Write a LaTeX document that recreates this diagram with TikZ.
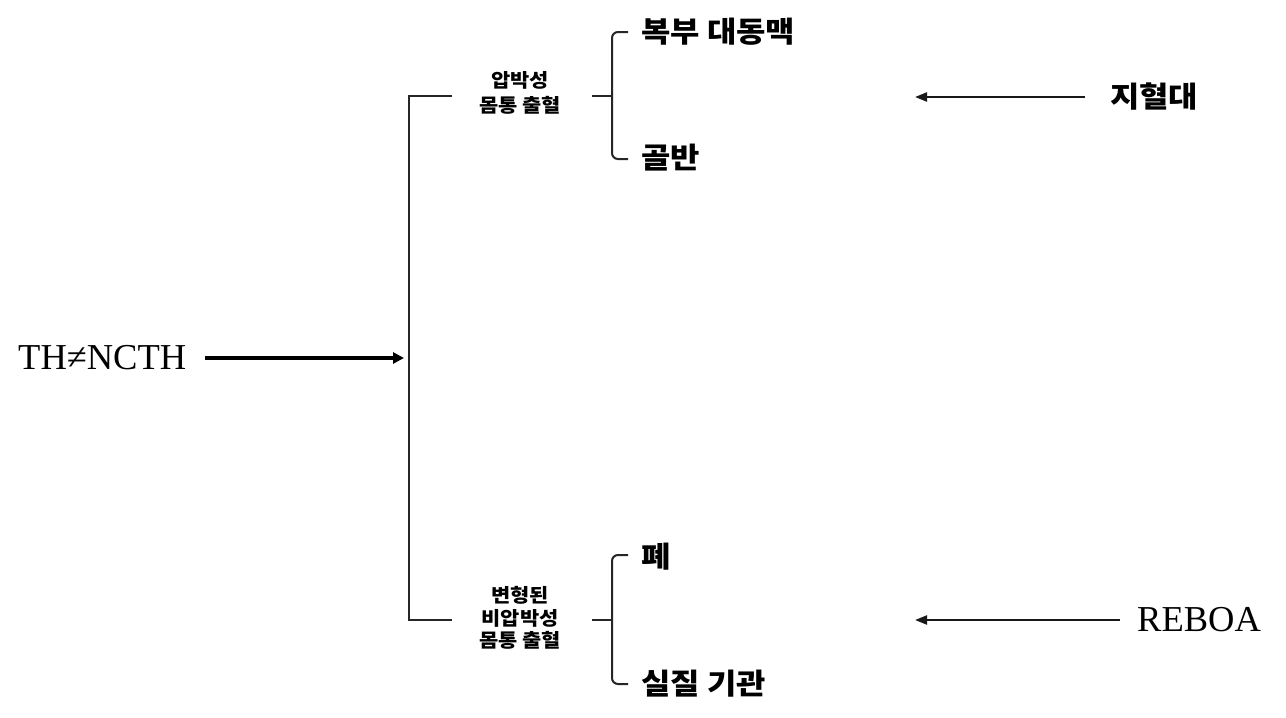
\documentclass[tikz,border=0pt]{standalone}
\usepackage{fontspec}
\setmainfont{Liberation Serif}
\newfontfamily\kr[FakeStretch=1.1]{Noto Sans CJK KR}
\usetikzlibrary{arrows.meta}
\begin{document}
\begin{tikzpicture}[x=1pt,y=-1pt,
  serifbig/.style={inner sep=0pt,font=\fontsize{36.5}{40}\selectfont},
  krbig/.style={inner sep=0pt,font=\kr\bfseries\fontsize{29}{32}\selectfont},
  krsmall/.style={inner sep=0pt,align=center,font=\kr\bfseries\fontsize{19}{25}\selectfont},
  krsmalltight/.style={inner sep=0pt,align=center,font=\kr\bfseries\fontsize{19}{22.5}\selectfont},
  bracketline/.style={line width=2pt,black!85},
  mainarrow/.style={line width=3.2pt,-{Triangle[length=11pt,width=11pt]}},
  sidearrow/.style={line width=2.2pt,black!90,-{Triangle[length=12pt,width=9pt]}}]
\useasboundingbox (0,0) rectangle (1286,718);
\fill[white] (0,0) rectangle (1286,718);

% left term
\node[serifbig,anchor=west] (th) at (18,358) {TH≠NCTH};

% main bracket
\coordinate (bt) at (409,96);
\coordinate (bb) at (409,620);
\coordinate (bm) at (409,358);
\coordinate (t1) at (452,96);
\coordinate (b1) at (452,620);
\draw[bracketline] (t1) -- (bt) -- (bb) -- (b1);
\draw[mainarrow] ([xshift=19pt]th.east) -- ([xshift=-5pt]bm);

% category labels
\node[krsmall] (cat1) at (520,92.5) {압박성\\몸통 출혈};
\node[krsmalltight] (cat2) at (520,618) {변형된\\비압박성\\몸통 출혈};

% upper brace
\coordinate (ub1) at (628,32);
\coordinate (ub2) at (612,32);
\coordinate (ub3) at (612,159);
\coordinate (ub4) at (628,159);
\coordinate (um) at (612,96);
\coordinate (us) at (592,96);
\draw[bracketline,rounded corners=6pt] (ub1) -- (ub2) -- (ub3) -- (ub4);
\draw[bracketline] (us) -- (um);
\node[krbig,anchor=west] (aorta) at (641,32) {복부 대동맥};
\node[krbig,anchor=west] (pelvis) at (641,158) {골반};

% lower brace
\coordinate (lb1) at (628,555);
\coordinate (lb2) at (612,555);
\coordinate (lb3) at (612,684);
\coordinate (lb4) at (628,684);
\coordinate (lm) at (612,620);
\coordinate (ls) at (592,620);
\draw[bracketline,rounded corners=6pt] (lb1) -- (lb2) -- (lb3) -- (lb4);
\draw[bracketline] (ls) -- (lm);
\node[krbig,anchor=west] (lung) at (641,557) {폐};
\node[krbig,anchor=west] (organ) at (641,684) {실질 기관};

% right side treatments
\node[krbig,anchor=west] (tq) at (1110,97) {지혈대};
\coordinate (tqend) at (915,97);
\draw[sidearrow] ([xshift=-25pt]tq.west) -- (tqend);
\node[serifbig,anchor=west] (reboa) at (1137,620) {REBOA};
\coordinate (reend) at (915,620);
\draw[sidearrow] ([xshift=-17pt]reboa.west) -- (reend);
\end{tikzpicture}
\end{document}
